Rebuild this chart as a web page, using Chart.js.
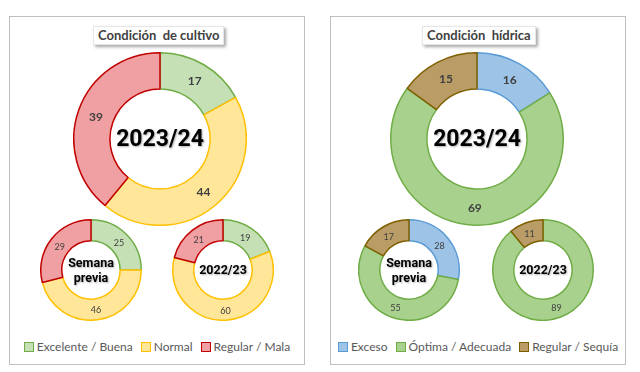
<!DOCTYPE html>
<html>
<head>
<meta charset="utf-8">
<script src="https://cdn.jsdelivr.net/npm/chart.js@4.4.1/dist/chart.umd.min.js"></script>
<style>
  body { margin: 0; width: 640px; height: 372px; background: #fff; position: relative; overflow: hidden; font-family: Lato, 'Open Sans', sans-serif; }
  .panel { position: absolute; top: 16px; width: 294px; height: 347px; border: 1px solid #bfbfbf; background: #fff; }
  .title { position: absolute; top: 9px; height: 17px; line-height: 17px; padding: 0 4px; background: #fff; color: #404040;
           font-weight: bold; font-size: 13px; white-space: pre; box-shadow: 2px 2px 3px rgba(0,0,0,0.35); border: 1px solid #e6e6e6; }
  .legend { position: absolute; left: 0; right: 0; top: 322px; display: flex; justify-content: center; gap: 8px;
            font-size: 12px; color: #595959; }
  .legend span { display: flex; align-items: center; }
  .legend i { display: inline-block; width: 8px; height: 8px; margin-right: 3px; border: 1px solid; }
  canvas { position: absolute; }
</style>
</head>
<body>
<div class="panel" id="p1" style="left:9px"><div class="title" style="left:83px">Condición  de cultivo</div><div class="legend" id="leg1"></div></div>
<div class="panel" id="p2" style="left:330px"><div class="title" style="left:91px">Condición  hídrica</div><div class="legend" id="leg2"></div></div>
<canvas id="c1"></canvas><canvas id="c2"></canvas><canvas id="c3"></canvas>
<canvas id="c4"></canvas><canvas id="c5"></canvas><canvas id="c6"></canvas>
<script>
const cultivoLabels = ['Excelente / Buena', 'Normal', 'Regular / Mala'];
const cultivoActual = [17, 44, 39];
const cultivoSemana = [25, 46, 29];
const cultivoAnterior = [19, 60, 21];
const cultivoFill = ['#c5e0b4', '#ffe699', '#f0a0a2'];
const cultivoBorder = ['#70ad47', '#ffc000', '#c00000'];

const hidricaLabels = ['Exceso', 'Óptima / Adecuada', 'Regular / Sequía'];
const hidricaActual = [16, 69, 15];
const hidricaSemana = [28, 55, 17];
const hidricaAnterior = [0, 89, 11];
const hidricaFill = ['#9dc3e6', '#a9d18e', '#b99c66'];
const hidricaBorder = ['#5b9bd5', '#70ad47', '#7f6000'];

// labels in the middle of each ring slice + text in the hole
const donutText = {
    id: 'donutText',
    afterDatasetsDraw(chart, args, opts) {
        let ctx = chart.ctx;
        let meta = chart.getDatasetMeta(0);
        let values = chart.data.datasets[0].data;
        ctx.save();
        ctx.textAlign = 'center';
        ctx.textBaseline = 'middle';
        ctx.fillStyle = '#404040';
        ctx.font = opts.labelFont;
        meta.data.forEach((arc, i) => {
            if (!values[i]) return;
            let p = arc.getCenterPoint();
            ctx.fillText(values[i], p.x, p.y + 1);
        });
        let cx = meta.data[0].x, cy = meta.data[0].y;
        ctx.fillStyle = '#000';
        ctx.font = opts.centerFont;
        ctx.shadowColor = 'rgba(0,0,0,0.3)';
        ctx.shadowOffsetX = 1;
        ctx.shadowOffsetY = 1;
        ctx.shadowBlur = 2;
        let lines = opts.lines;
        lines.forEach((line, i) => {
            ctx.fillText(line, cx, cy + (i - (lines.length - 1) / 2) * opts.lineHeight + 1);
        });
        ctx.restore();
    }
};

function makeDonut(id, cx, cy, r, values, fill, border, lines, big) {
    let size = 2 * r + 2;
    let el = document.getElementById(id);
    el.width = size;
    el.height = size;
    el.style.left = (cx - size / 2) + 'px';
    el.style.top = (cy - size / 2) + 'px';
    new Chart(el, {
        type: 'doughnut',
        data: {
            datasets: [{
                data: values,
                backgroundColor: fill,
                borderColor: border,
                borderWidth: 1.5
            }]
        },
        options: {
            responsive: false,
            animation: false,
            cutout: '58%',
            layout: { padding: 0 },
            plugins: {
                legend: { display: false },
                tooltip: { enabled: false },
                donutText: {
                    lines: lines,
                    labelFont: big ? 'bold 12px Lato' : '9px Lato',
                    centerFont: big ? 'bold 23px Roboto' : 'bold 12.5px Roboto',
                    lineHeight: 15
                }
            }
        },
        plugins: [donutText]
    });
}

function makeLegend(id, labels, fill, border) {
    let box = document.getElementById(id);
    labels.forEach((label, i) => {
        let item = document.createElement('span');
        item.innerHTML = `<i style="background:${fill[i]};border-color:${border[i]}"></i>${label}`;
        box.appendChild(item);
    });
}

makeDonut('c1', 160, 139, 86, cultivoActual, cultivoFill, cultivoBorder, ['2023/24'], true);
makeDonut('c2', 91, 270, 50, cultivoSemana, cultivoFill, cultivoBorder, ['Semana', 'previa'], false);
makeDonut('c3', 223, 270, 50, cultivoAnterior, cultivoFill, cultivoBorder, ['2022/23'], false);
makeDonut('c4', 477, 139, 86, hidricaActual, hidricaFill, hidricaBorder, ['2023/24'], true);
makeDonut('c5', 409, 270, 50, hidricaSemana, hidricaFill, hidricaBorder, ['Semana', 'previa'], false);
makeDonut('c6', 543, 270, 50, hidricaAnterior, hidricaFill, hidricaBorder, ['2022/23'], false);

makeLegend('leg1', cultivoLabels, cultivoFill, cultivoBorder);
makeLegend('leg2', hidricaLabels, hidricaFill, hidricaBorder);
</script>
</body>
</html>
